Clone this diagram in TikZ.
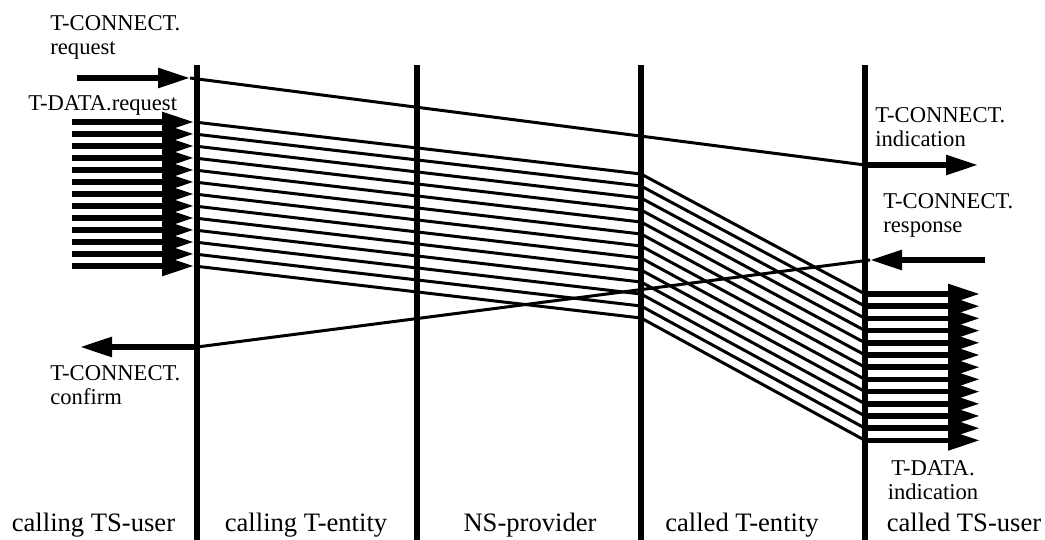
\documentclass[tikz,border=0pt]{standalone}
\usepackage{fontspec}
\setmainfont{Liberation Serif}
\usetikzlibrary{arrows.meta}

\begin{document}
\begin{tikzpicture}[
			x=5pt, y=5pt,
			every node/.style={inner sep=0pt, font=\fontsize{11.3}{12}\selectfont},
			wall/.style={line width=2.8pt},
			msg/.style={line width=1.5pt},
			prim/.style={line width=2.8pt, -{Triangle[length=16pt,width=9.5pt]}},
			party/.style={anchor=base, font=\fontsize{13.3}{14}\selectfont}
			]
			\useasboundingbox (0,0) rectangle (104.5,54);
			
			% time lines
			\foreach \x in {19.7,41.7,64.1,86.5}
				\draw[wall] (\x,47.5) -- (\x,0);
			
			% connect request -> indication
			\coordinate (req0) at (7.7,46.2);
			\coordinate (req1) at (19.0,46.2);
			\coordinate (ind0) at (86.5,37.5);
			\coordinate (ind1) at (97.8,37.5);
			\draw[prim] (req0) -- (req1);
			\draw[msg] (req1) -- (ind0);
			\draw[prim] (ind0) -- (ind1);
			
			% response -> confirm
			\coordinate (res0) at (98.5,28.0);
			\coordinate (res1) at (87.0,28.0);
			\coordinate (con0) at (19.7,19.3);
			\coordinate (con1) at (8.0,19.3);
			\draw[prim] (res0) -- (res1);
			\draw[msg] (res1) -- (con0);
			\draw[prim] (con0) -- (con1);
			
			% data units
			\foreach \i in {0,...,12} {
				\coordinate (dl\i) at (7.2,{41.8-1.2*\i});
				\coordinate (dt\i) at (19.4,{41.8-1.2*\i});
				\coordinate (dm\i) at (64.1,{36.6-1.2*\i});
				\coordinate (dr\i) at (86.5,{24.6-1.22*\i});
				\coordinate (ds\i) at (98.0,{24.6-1.22*\i});
				\draw[prim] (dl\i) -- (dt\i);
				\draw[msg] (dt\i) -- (dm\i) -- (dr\i);
				\draw[prim] (dr\i) -- (ds\i);
			}
			
			\node[anchor=north west, align=left] (lreq) at (5.0,52.5) {T-CONNECT.\\request};
			\node[anchor=north west] (ldreq) at (2.8,44.5) {T-DATA.request};
			\node[anchor=north west, align=left] (lind) at (87.5,43.3) {T-CONNECT.\\indication};
			\node[anchor=north west, align=left] (lres) at (88.3,34.7) {T-CONNECT.\\response};
			\node[anchor=north west, align=left] (lcon) at (5.0,17.5) {T-CONNECT.\\confirm};
			\node[anchor=north, align=center] (ldind) at (93.3,8.0) {T-DATA.\\indication};
			
			\node[party] (p1) at (9.35,0.83) {calling TS-user};
			\node[party] (p2) at (30.6,0.83) {calling T-entity};
			\node[party] (p3) at (53.0,0.83) {NS-provider};
			\node[party] (p4) at (74.2,0.83) {called T-entity};
			\node[party] (p5) at (96.4,0.83) {called TS-user};
		\end{tikzpicture}
\end{document}
